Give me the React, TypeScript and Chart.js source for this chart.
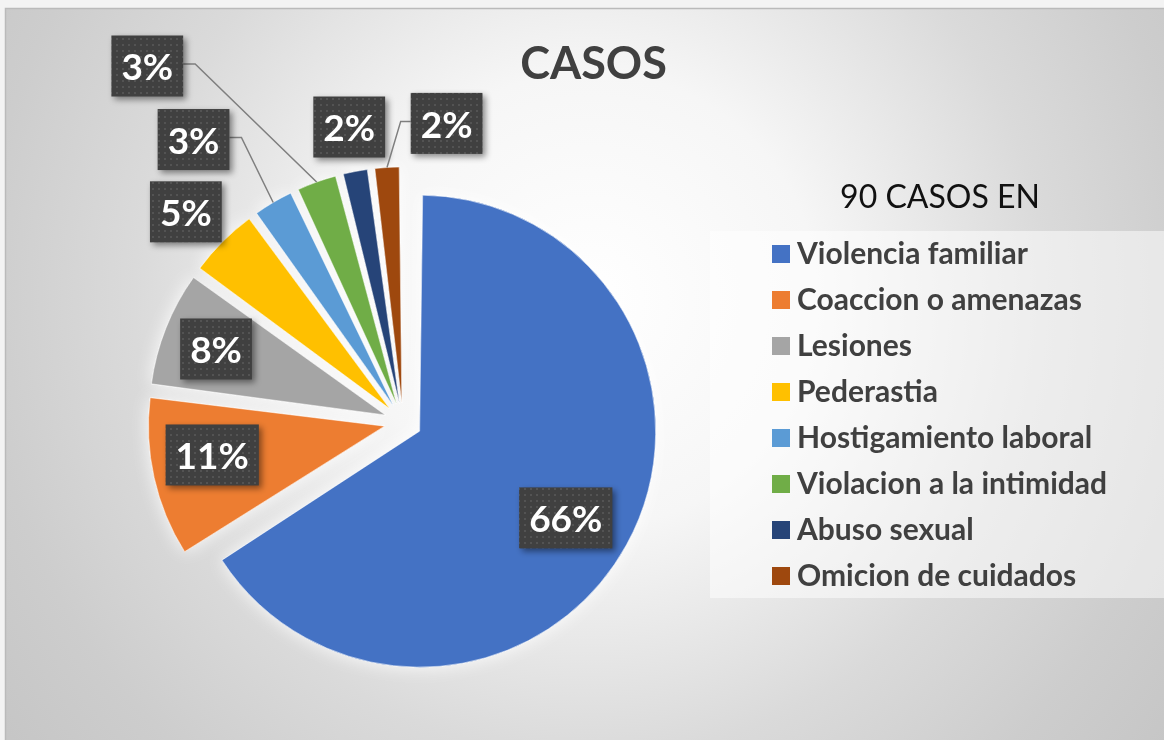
import React, { useEffect, useRef } from "react";
import { Chart, registerables } from "chart.js";

Chart.register(...registerables);

// ---------------- data ----------------
const categories = [
  "Violencia familiar",
  "Coaccion o amenazas",
  "Lesiones",
  "Pederastia",
  "Hostigamiento laboral",
  "Violacion a la intimidad",
  "Abuso sexual",
  "Omicion de cuidados",
];
const percentages = [66, 11, 8, 5, 3, 3, 2, 2];
const sliceColors = [
  "#4472C4",
  "#ED7D31",
  "#A5A5A5",
  "#FFC000",
  "#5B9BD5",
  "#70AD47",
  "#264478",
  "#9E480E",
];
const chartTitle = "CASOS";
const legendTitle = "90 CASOS EN";

// ---------------- layout / style ----------------
const W = 1164;
const H = 740;
const PIE_RADIUS = 236;
const EXPLODE = 19; // px every slice is pulled out
const PIE_CX = 403;
const PIE_CY = 422;
const FONT = "Lato, 'Open Sans', 'DejaVu Sans', sans-serif";

// label placement relative to each slice: angle shift (deg) from mid-angle, distance (x radius)
const labelPlacement = [
  { shift: 1.9, dist: 0.72, leader: false },
  { shift: 3.1, dist: 0.74, leader: false },
  { shift: -0.3, dist: 0.77, leader: false },
  { shift: -1.0, dist: 1.2, leader: false },
  { shift: -6.3, dist: 1.41, leader: true },
  { shift: -16.6, dist: 1.78, leader: true },
  { shift: 0.5, dist: 1.19, leader: false },
  { shift: 12.7, dist: 1.2, leader: true },
];

const LEGEND_BOX = { x: 710, y: 231, w: 454, h: 367 };
const LEGEND_ITEM_X = 772;
const LEGEND_FIRST_Y = 254;
const LEGEND_PITCH = 46;

function makePattern(ctx: CanvasRenderingContext2D) {
  const c = document.createElement("canvas");
  c.width = 6;
  c.height = 6;
  const p = c.getContext("2d")!;
  p.fillStyle = "#404040";
  p.fillRect(0, 0, 6, 6);
  p.fillStyle = "#535353";
  p.fillRect(2, 2, 2, 2);
  return ctx.createPattern(c, "repeat");
}

const backgroundPlugin = {
  id: "bgPlugin",
  beforeDraw(chart: any) {
    const ctx: CanvasRenderingContext2D = chart.ctx;
    ctx.save();
    ctx.fillStyle = "#f3f3f3";
    ctx.fillRect(0, 0, W, H);
    const g = ctx.createRadialGradient(590, 300, 0, 590, 300, 760);
    g.addColorStop(0, "#ffffff");
    g.addColorStop(0.3, "#f6f6f6");
    g.addColorStop(0.6, "#dadada");
    g.addColorStop(0.8, "#cdcdcd");
    g.addColorStop(1, "#c4c4c4");
    ctx.fillStyle = g;
    ctx.fillRect(5, 8, W - 5, H - 8);
    ctx.strokeStyle = "#bababa";
    ctx.lineWidth = 1.5;
    ctx.beginPath();
    ctx.moveTo(5.5, H);
    ctx.lineTo(5.5, 8.5);
    ctx.lineTo(W, 8.5);
    ctx.stroke();
    // legend panel
    ctx.fillStyle = "rgba(255,255,255,0.5)";
    ctx.fillRect(LEGEND_BOX.x, LEGEND_BOX.y, LEGEND_BOX.w, LEGEND_BOX.h);
    ctx.restore();
  },
};

// keep every exploded slice at the same radius (Chart.js grows offset arcs)
const radiusFixPlugin = {
  id: "radiusFix",
  afterDatasetUpdate(chart: any, args: any) {
    const meta = chart.getDatasetMeta(args.index);
    meta.data.forEach((arc: any) => {
      const fix = 1 - Math.sin(Math.min(Math.PI, arc.circumference || 0));
      arc.outerRadius = PIE_RADIUS - EXPLODE * fix;
    });
  },
};

const decorPlugin = {
  id: "decor",
  beforeDatasetsDraw(chart: any) {
    // soft white glow under the slices
    const ctx: CanvasRenderingContext2D = chart.ctx;
    const meta = chart.getDatasetMeta(0);
    ctx.save();
    ctx.shadowColor = "rgba(255,255,255,0.9)";
    ctx.shadowBlur = 18;
    meta.data.forEach((arc: any) => arc.draw(ctx));
    ctx.restore();
  },
  afterDatasetsDraw(chart: any) {
    const ctx: CanvasRenderingContext2D = chart.ctx;
    const meta = chart.getDatasetMeta(0);
    const ds = chart.data.datasets[0];
    const labels: string[] = chart.data.labels;
    const pattern = makePattern(ctx);
    const fontSize = 37;
    const capH = fontSize * 0.7165;

    meta.data.forEach((arc: any, i: number) => {
      const place = labelPlacement[i];
      const h = (arc.startAngle + arc.endAngle) / 2;
      const vx = arc.x + Math.cos(h) * EXPLODE;
      const vy = arc.y + Math.sin(h) * EXPLODE;
      const a = h + (place.shift * Math.PI) / 180;
      const lx = vx + Math.cos(a) * place.dist * PIE_RADIUS;
      const ly = vy + Math.sin(a) * place.dist * PIE_RADIUS;
      const text = `${ds.data[i]}%`;
      ctx.save();
      ctx.font = `bold ${fontSize}px ${FONT}`;
      const tw = ctx.measureText(text).width;
      const bw = tw + 20;
      const bh = 61;
      const bx = lx - bw / 2;
      const by = ly - bh / 2;

      if (place.leader) {
        const px = vx + Math.cos(h) * PIE_RADIUS;
        const py = vy + Math.sin(h) * PIE_RADIUS;
        const toRight = px > lx;
        const sx = toRight ? bx + bw : bx;
        const sy = ly - 2;
        const kx = sx + (toRight ? 12 : -10);
        ctx.strokeStyle = "#7f7f7f";
        ctx.lineWidth = 1.5;
        ctx.beginPath();
        ctx.moveTo(sx, sy);
        ctx.lineTo(kx, sy);
        ctx.lineTo(px, py);
        ctx.stroke();
      }

      ctx.shadowColor = "rgba(0,0,0,0.45)";
      ctx.shadowBlur = 6;
      ctx.shadowOffsetX = 3;
      ctx.shadowOffsetY = 3;
      ctx.fillStyle = pattern || "#404040";
      ctx.fillRect(bx, by, bw, bh);
      ctx.shadowColor = "transparent";
      ctx.fillStyle = "#ffffff";
      ctx.textAlign = "center";
      ctx.textBaseline = "alphabetic";
      ctx.fillText(text, lx, ly + capH / 2 + 1);
      ctx.restore();
    });

    // title
    ctx.save();
    ctx.fillStyle = "#404040";
    ctx.textAlign = "center";
    ctx.textBaseline = "alphabetic";
    ctx.font = `bold 45px ${FONT}`;
    ctx.fillText(chartTitle, 593.5, 79);

    // legend title
    ctx.fillStyle = "#111111";
    ctx.font = `32px ${FONT}`;
    ctx.fillText(legendTitle, 940, 207.5);

    // legend items
    ctx.font = `bold 30px ${FONT}`;
    ctx.textAlign = "left";
    labels.forEach((lab, i) => {
      const cy = LEGEND_FIRST_Y + i * LEGEND_PITCH;
      ctx.fillStyle = ds.backgroundColor[i];
      ctx.fillRect(LEGEND_ITEM_X, cy - 9, 18, 18);
      ctx.fillStyle = "#404040";
      ctx.fillText(lab, LEGEND_ITEM_X + 25, cy + 10);
    });
    ctx.restore();
  },
};

export default function App() {
  const ref = useRef<HTMLCanvasElement>(null);

  useEffect(() => {
    const canvas = ref.current;
    if (!canvas) return;
    const chart = new Chart(canvas, {
      type: "pie",
      data: {
        labels: categories,
        datasets: [
          {
            data: percentages,
            backgroundColor: sliceColors,
            borderColor: "rgba(255,255,255,0.55)",
            borderWidth: 1,
            offset: EXPLODE * 4,
            radius: PIE_RADIUS,
          } as any,
        ],
      },
      options: {
        responsive: false,
        animation: false,
        events: [],
        radius: PIE_RADIUS,
        layout: {
          padding: {
            left: PIE_CX - 303,
            right: W - (PIE_CX + 303),
            top: PIE_CY - 293,
            bottom: H - (PIE_CY + 293),
          },
        },
        plugins: {
          legend: { display: false },
          title: { display: false },
          tooltip: { enabled: false },
        },
      } as any,
      plugins: [backgroundPlugin, radiusFixPlugin, decorPlugin],
    });
    return () => chart.destroy();
  }, []);

  return (
    <div style={{ position: "fixed", left: 0, top: 0, width: W, height: H, overflow: "hidden" }}>
      <canvas ref={ref} width={W} height={H} style={{ display: "block", width: W, height: H }} />
    </div>
  );
}
